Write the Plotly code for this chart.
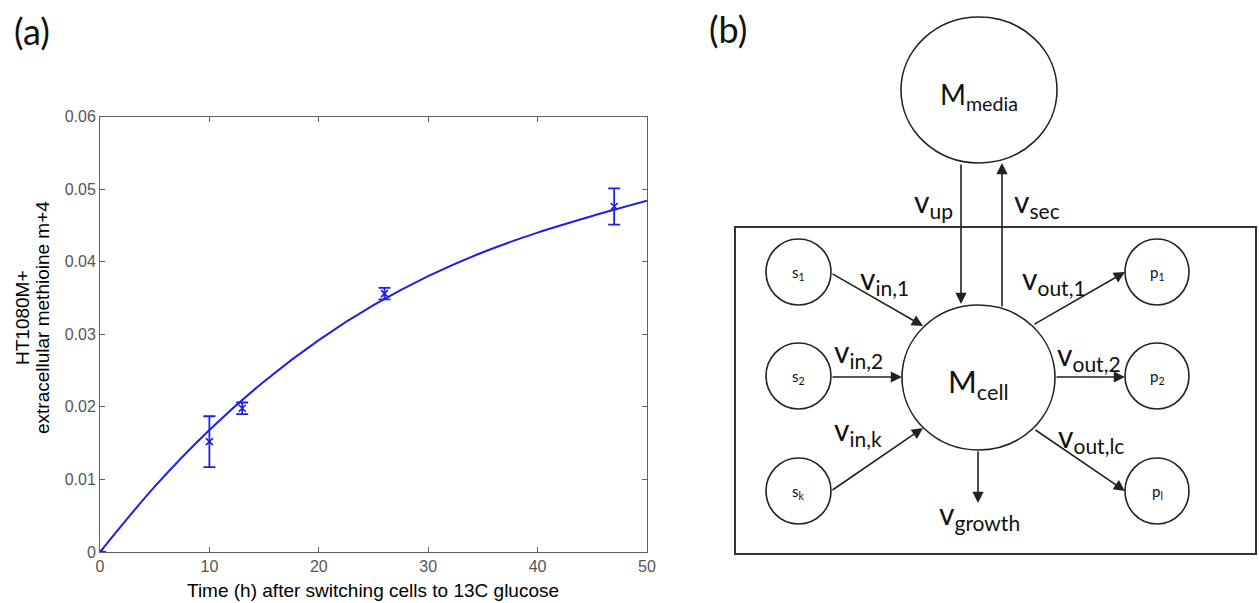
import plotly.graph_objects as go

# ---------------- panel (a) data ----------------
time_h = [0, 10, 13, 26, 47]
m4_frac = [0.0, 0.0152, 0.0198, 0.0356, 0.0476]
m4_err = [0.0, 0.0035, 0.0008, 0.0008, 0.0025]

fit_time = [0, 5, 10, 15, 20, 25, 30, 35, 40, 45, 50]
fit_frac = [0.0, 0.0090, 0.0168, 0.0235, 0.0292, 0.0340, 0.0380, 0.0413, 0.0440, 0.0463, 0.0484]

x_ticks = [0, 10, 20, 30, 40, 50]
y_ticks = [0, 0.01, 0.02, 0.03, 0.04, 0.05, 0.06]
y_tick_labels = ["0", "0.01", "0.02", "0.03", "0.04", "0.05", "0.06"]

x_title = "Time (h) after switching cells to 13C glucose"
y_title_lines = ["HT1080M+", "extracellular methioine m+4"]

# ---------------- panel (b) diagram content ----------------
node_names = ["media", "cell", "s1", "s2", "sk", "p1", "p2", "pl"]
node_labels = ["M<sub>media</sub>", "M<sub>cell</sub>", "s<sub>1</sub>", "s<sub>2</sub>",
               "s<sub>k</sub>", "p<sub>1</sub>", "p<sub>2</sub>", "p<sub>l</sub>"]
flux_labels = ["v<sub>up</sub>", "v<sub>sec</sub>", "v<sub>in,1</sub>", "v<sub>in,2</sub>",
               "v<sub>in,k</sub>", "v<sub>out,1</sub>", "v<sub>out,2</sub>",
               "v<sub>out,lc</sub>", "v<sub>growth</sub>"]

# ---------------- diagram layout (pixel space) ----------------
W, H = 1259, 603
node_box = {  # x0, x1, y0, y1
    "media": (901, 1057, 17, 163),
    "cell": (902, 1055, 305, 450),
    "s1": (766, 831, 239, 305),
    "s2": (766, 831, 343, 409),
    "sk": (766, 831, 458, 524),
    "p1": (1125, 1189, 239, 305),
    "p2": (1125, 1189, 343, 409),
    "pl": (1125, 1189, 458, 524),
}
node_font = {"media": 28, "cell": 31}
arrows = [  # tail (x, y) -> head (x, y)
    ((961, 163), (961, 304)),
    ((1002, 308), (1002, 163)),
    ((831, 273), (923, 326)),
    ((831, 377), (902, 377)),
    ((831, 491), (923, 428)),
    ((1033, 325), (1125, 272)),
    ((1055, 377), (1125, 377)),
    ((1034, 429), (1125, 491)),
    ((978, 450), (978, 503)),
]
flux_pos = [(933, 203), (1037, 203), (884, 280), (858, 353), (858, 431),
            (1054, 280), (1089, 356), (1091, 438), (979, 515)]
cell_box = (735, 1256, 227, 554)

FONT = "Lato"
TXT = "#111111"

fig = go.Figure()

# ---- panel (a) traces ----
fig.add_trace(go.Scatter(
    x=fit_time, y=fit_frac, mode="lines", line=dict(color="#1f1fe0", width=2, shape="spline", smoothing=1.0),
    xaxis="x", yaxis="y", hoverinfo="skip"))
fig.add_trace(go.Scatter(
    x=time_h, y=m4_frac, mode="markers",
    marker=dict(symbol="x-thin", size=7, line=dict(color="#1f1fe0", width=1.6), color="#1f1fe0"),
    error_y=dict(type="data", array=m4_err, visible=True, color="#1f1fe0", thickness=1.8, width=6),
    xaxis="x", yaxis="y"))

# invisible trace to activate pixel axes
fig.add_trace(go.Scatter(x=[0, W], y=[0, H], mode="markers", marker=dict(opacity=0),
                         xaxis="x2", yaxis="y2", hoverinfo="skip"))

axis_common = dict(showgrid=False, zeroline=False, showline=True, linecolor="#606060", linewidth=1,
                   ticks="inside", ticklen=5, tickcolor="#606060", mirror="ticks",
                   tickfont=dict(family="Liberation Sans, Arial", size=16, color="#555555"))

fig.update_layout(
    width=W, height=H, margin=dict(l=0, r=0, t=0, b=0, autoexpand=False),
    paper_bgcolor="white", plot_bgcolor="rgba(0,0,0,0)", showlegend=False,
    xaxis=dict(domain=[100 / W, 647 / W], range=[0, 50], tickvals=x_ticks, anchor="y", **axis_common),
    yaxis=dict(domain=[1 - 552 / H, 1 - 116.5 / H], range=[0, 0.06], tickvals=y_ticks,
               ticktext=y_tick_labels, anchor="x", **axis_common),
    xaxis2=dict(domain=[0, 1], range=[0, W], visible=False, anchor="y2", fixedrange=True),
    yaxis2=dict(domain=[0, 1], range=[H, 0], visible=False, anchor="x2", fixedrange=True),
)

shapes = []
annotations = []

# panel letters
annotations.append(dict(x=32, y=31, xref="x2", yref="y2", text="(a)", showarrow=False,
                        font=dict(family=FONT, size=36, color=TXT), xanchor="center", yanchor="middle"))
annotations.append(dict(x=728, y=29, xref="x2", yref="y2", text="(b)", showarrow=False,
                        font=dict(family=FONT, size=36, color=TXT), xanchor="center", yanchor="middle"))

# axis titles for (a)
annotations.append(dict(x=373, y=590, xref="x2", yref="y2", text=x_title, showarrow=False,
                        font=dict(family="Liberation Sans, Arial", size=19, color="#000000"),
                        xanchor="center", yanchor="middle"))
for xpos, line in zip([22, 42], y_title_lines):
    annotations.append(dict(x=xpos, y=318, xref="x2", yref="y2", text=line, showarrow=False,
                            textangle=-90, font=dict(family="Liberation Sans, Arial", size=19, color="#000000"),
                            xanchor="center", yanchor="middle"))

# cell compartment box
shapes.append(dict(type="rect", xref="x2", yref="y2", x0=cell_box[0], x1=cell_box[1],
                   y0=cell_box[2], y1=cell_box[3], line=dict(color="#333333", width=2)))

# nodes
for name, label in zip(node_names, node_labels):
    x0, x1, y0, y1 = node_box[name]
    shapes.append(dict(type="circle", xref="x2", yref="y2", x0=x0, x1=x1, y0=y0, y1=y1,
                       line=dict(color="#222222", width=1.6)))
    size = node_font.get(name, 15)
    cy = (y0 + y1) / 2 + (6 if size > 20 else 1)
    annotations.append(dict(x=(x0 + x1) / 2, y=cy, xref="x2", yref="y2", text=label,
                            showarrow=False, font=dict(family=FONT, size=size, color=TXT),
                            xanchor="center", yanchor="middle"))

# arrows
for (tx, ty), (hx, hy) in arrows:
    annotations.append(dict(x=hx, y=hy, ax=tx, ay=ty, xref="x2", yref="y2", axref="x2", ayref="y2",
                            text="", showarrow=True, arrowhead=2, arrowsize=1.4, arrowwidth=1.6,
                            arrowcolor="#222222", standoff=0, startstandoff=0))

# flux labels
for (fx, fy), label in zip(flux_pos, flux_labels):
    annotations.append(dict(x=fx, y=fy, xref="x2", yref="y2", text=label, showarrow=False,
                            font=dict(family=FONT, size=30, color=TXT), xanchor="center", yanchor="middle"))

fig.update_layout(shapes=shapes, annotations=annotations)

fig.write_html("out.html", config={"displayModeBar": False, "staticPlot": True},
               post_script="document.body.style.margin='0';document.body.style.overflow='hidden';")
